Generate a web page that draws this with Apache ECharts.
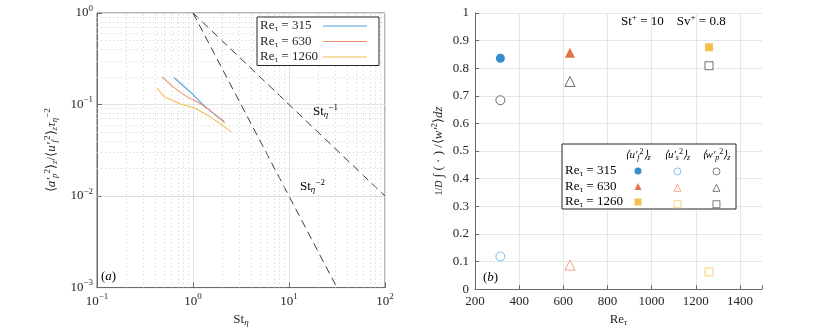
<!DOCTYPE html>
<html>
<head>
<meta charset="utf-8">
<script src="https://cdn.jsdelivr.net/npm/echarts@6/dist/echarts.min.js"></script>
<style>
html, body { margin: 0; padding: 0; background: #fff; }
#chart { width: 830px; height: 332px; }
</style>
</head>
<body>
<div id="chart"></div>
<script>
// (a) particle acceleration variance vs St_eta
const stBlue = [0.638, 0.93, 1.28, 1.69, 2.10];
const accBlue = [0.196, 0.138, 0.099, 0.077, 0.0657];
const stRed = [0.479, 0.62, 0.86, 1.18, 1.63, 2.15];
const accRed = [0.200, 0.156, 0.122, 0.103, 0.081, 0.063];
const stYellow = [0.425, 0.50, 0.73, 1.05, 1.50, 1.99, 2.53];
const accYellow = [0.150, 0.122, 0.102, 0.091, 0.074, 0.060, 0.050];
// reference slopes St^-1 and St^-2
const slope1X = [1, 100];
const slope1Y = [1, 0.01];
const slope2X = [1, 31.6];
const slope2Y = [1, 0.001];
// minor grid positions for the log-log panel
const minorX = [0.2, 0.3, 0.4, 0.5, 0.6, 0.7, 0.8, 0.9, 2, 3, 4, 5, 6, 7, 8, 9, 20, 30, 40, 50, 60, 70, 80, 90];
const minorY = [0.002, 0.003, 0.004, 0.005, 0.006, 0.007, 0.008, 0.009,
	0.02, 0.03, 0.04, 0.05, 0.06, 0.07, 0.08, 0.09, 0.2, 0.3, 0.4, 0.5, 0.6, 0.7, 0.8, 0.9];
const reLabels = ['315', '630', '1260'];

// (b) integrated variances vs Re_tau
const reTau = [315, 630, 1260];
const ufVals = [0.836, 0.856, 0.876];
const usVals = [0.118, 0.087, 0.062];
const wpVals = [0.684, 0.752, 0.809];

const serif = 'Liberation Serif';
const ink = '#262626';
const lineColors = ['#4FA3E0', '#EE8F6B', '#F3C050'];
const fillColors = ['#0072BD', '#D95319', '#EDB120'];
const openColors = ['#4DAAE6', '#EE8A66', '#F2C45A'];
const markerShapes = ['circle', 'triangle', 'rect'];
const markerSizes = [9, 10, 8];

// thin horizontal stroke as legend icon (the tiny strips keep the box height)
const lineIcon = 'path://M0,0L44,0L44,0.01L0,0.01Z M0,6.45L44,6.45L44,7.55L0,7.55Z M0,13.99L44,13.99L44,14L0,14Z';

const rich = {
	n: { fontFamily: serif, fontSize: 13, color: ink, verticalAlign: 'middle' },
	i: { fontFamily: serif, fontSize: 13, color: ink, fontStyle: 'italic', verticalAlign: 'middle' },
	sup: { fontFamily: serif, fontSize: 9, color: ink, verticalAlign: 'middle', padding: [0, 0, 9, 0] },
	sub: { fontFamily: serif, fontSize: 9, color: ink, verticalAlign: 'middle', padding: [6, 0, 0, 0] },
	subi: { fontFamily: serif, fontSize: 9, color: ink, fontStyle: 'italic', verticalAlign: 'middle', padding: [6, 0, 0, 0] },
	fs: { fontFamily: serif, fontSize: 10, color: ink, verticalAlign: 'middle' },
	fsi: { fontFamily: serif, fontSize: 10, color: ink, fontStyle: 'italic', verticalAlign: 'middle' },
	h: { fontFamily: serif, fontSize: 11, color: ink, fontStyle: 'italic', verticalAlign: 'middle' },
	hs: { fontFamily: serif, fontSize: 8, color: ink, fontStyle: 'italic', verticalAlign: 'middle', padding: [5, 0, 0, 0] },
	hp: { fontFamily: serif, fontSize: 8, color: ink, verticalAlign: 'middle', padding: [0, 0, 7, 0] },
};

const legendRich = {
	l: { fontFamily: serif, fontSize: 13, color: ink, align: 'left', verticalAlign: 'middle' },
	ls: { fontFamily: serif, fontSize: 9, color: ink, align: 'left', verticalAlign: 'middle', padding: [6, 0, 0, 0] },
};

const pow10Label = (value) => {
	const e = Math.round(Math.log10(value));
	return '{n|10}{sup|' + (e < 0 ? '−' + -e : e) + '}';
};

const pairs = (xs, ys) => xs.map((x, k) => [x, ys[k]]);

const chart = echarts.init(document.getElementById('chart'));

const series = [];

// minor dotted grid of the log-log panel
series.push({
	type: 'line',
	xAxisIndex: 0,
	yAxisIndex: 0,
	data: [],
	z: 1,
	markLine: {
		silent: true,
		symbol: ['none', 'none'],
		label: { show: false },
		lineStyle: { type: [1, 3], color: '#cfcfcf', width: 1 },
		emphasis: { disabled: true },
		data: minorX.map((v) => ({ xAxis: v })).concat(minorY.map((v) => ({ yAxis: v }))),
	},
});

// DNS curves
[[stBlue, accBlue], [stRed, accRed], [stYellow, accYellow]].forEach((d, k) => {
	series.push({
		name: 'Re' + reLabels[k],
		type: 'line',
		xAxisIndex: 0,
		yAxisIndex: 0,
		data: pairs(d[0], d[1]),
		symbol: 'none',
		lineStyle: { color: lineColors[k], width: 1.1 },
		itemStyle: { color: lineColors[k] },
		z: 3,
	});
});

// slope lines
[[slope1X, slope1Y], [slope2X, slope2Y]].forEach((d) => {
	series.push({
		type: 'line',
		xAxisIndex: 0,
		yAxisIndex: 0,
		data: pairs(d[0], d[1]),
		symbol: 'none',
		lineStyle: { color: '#3a3a3a', width: 1, type: [8, 5] },
		z: 2,
	});
});

// panel (b) markers
reTau.forEach((re, k) => {
	series.push({
		name: 'uf' + k,
		type: 'scatter',
		xAxisIndex: 1,
		yAxisIndex: 1,
		data: [[re, ufVals[k]]],
		symbol: markerShapes[k],
		symbolSize: markerSizes[k],
		itemStyle: { color: fillColors[k], borderWidth: 0 },
	});
	series.push({
		name: 'us' + k,
		type: 'scatter',
		xAxisIndex: 1,
		yAxisIndex: 1,
		data: [[re, usVals[k]]],
		symbol: markerShapes[k],
		symbolSize: markerSizes[k],
		itemStyle: { color: '#fff', borderColor: openColors[k], borderWidth: 1 },
	});
	series.push({
		name: 'wp' + k,
		type: 'scatter',
		xAxisIndex: 1,
		yAxisIndex: 1,
		data: [[re, wpVals[k]]],
		symbol: markerShapes[k],
		symbolSize: markerSizes[k],
		itemStyle: { color: '#fff', borderColor: '#4a4a4a', borderWidth: 1 },
	});
});

// marker legend columns of panel (b)
const markerLegend = (prefix, left) => ({
	data: [0, 1, 2].map((k) => prefix + k),
	orient: 'vertical',
	left: left,
	top: 167.5,
	padding: 0,
	itemWidth: 7,
	itemHeight: 7,
	itemGap: 8.5,
	selectedMode: false,
	itemStyle: { borderWidth: 0.9 },
	formatter: () => '',
	textStyle: { fontSize: 1, lineHeight: 1 },
	z: 10,
});

const rowText = (k, y) => ({
	type: 'text',
	x: 565,
	y: y,
	z: 10,
	style: { text: '{n|Re}{sub|τ}{n| = ' + reLabels[k] + '}', rich: rich, verticalAlign: 'middle' },
});

const option = {
	animation: false,
	backgroundColor: '#fff',
	grid: [
		{ left: 97, top: 13, width: 288, height: 280, show: true, borderColor: '#6a6a6a', borderWidth: 1, backgroundColor: 'transparent' },
		{ left: 475, top: 13, width: 287, height: 280 },
	],
	xAxis: [
		{
			gridIndex: 0,
			type: 'log',
			logBase: 10,
			min: 0.1,
			max: 100,
			name: '{n|St}{subi|η}',
			nameLocation: 'middle',
			nameGap: 22,
			nameTextStyle: { rich: rich },
			axisLine: { lineStyle: { color: '#6a6a6a', width: 1 } },
			axisTick: { inside: true, length: 5, lineStyle: { color: '#6a6a6a' } },
			axisLabel: { formatter: pow10Label, rich: rich, margin: 5 },
			splitLine: { show: true, lineStyle: { color: '#e2e2e2', width: 1 } },
		},
		{
			gridIndex: 1,
			type: 'value',
			min: 200,
			max: 1500,
			interval: 200,
			name: '{n|Re}{subi|τ}',
			nameLocation: 'middle',
			nameGap: 22,
			nameTextStyle: { rich: rich },
			axisLine: { lineStyle: { color: '#6a6a6a', width: 1 } },
			axisTick: { inside: true, length: 4, lineStyle: { color: '#6a6a6a' } },
			axisLabel: {
				formatter: (v) => (v > 1450 ? '' : '{n|' + v + '}'),
				rich: rich,
				margin: 6,
			},
			splitLine: { show: true, showMaxLine: false, lineStyle: { color: '#e6e6e6', width: 1 } },
		},
	],
	yAxis: [
		{
			gridIndex: 0,
			type: 'log',
			logBase: 10,
			min: 0.001,
			max: 1,
			name: '{n|⟨}{i|a′}{subi|p}{sup|2}{n|⟩}{subi|z}{n|/⟨}{i|u′}{subi|f}{sup|2}{n|⟩}{subi|z}{i|τ}{subi|η}{sup|−2}',
			nameLocation: 'middle',
			nameRotate: 90,
			nameGap: 36,
			nameTextStyle: { rich: rich },
			axisLine: { lineStyle: { color: '#6a6a6a', width: 1 } },
			axisTick: { inside: true, length: 5, lineStyle: { color: '#6a6a6a' } },
			axisLabel: { formatter: pow10Label, rich: rich, margin: 4 },
			splitLine: { show: true, lineStyle: { color: '#e2e2e2', width: 1 } },
		},
		{
			gridIndex: 1,
			type: 'value',
			min: 0,
			max: 1,
			interval: 0.1,
			name: '{fs|1/}{fsi|D}{n| ∫ ( · ) /⟨}{i|w′}{sup|2}{n|⟩}{i|dz}',
			nameLocation: 'middle',
			nameRotate: 90,
			nameGap: 27,
			nameTextStyle: { rich: rich },
			axisLine: { show: true, lineStyle: { color: '#6a6a6a', width: 1 } },
			axisTick: { show: true, inside: true, length: 4, lineStyle: { color: '#6a6a6a' } },
			axisLabel: {
				formatter: (v) => '{n|' + String(Math.round(v * 10) / 10) + '}',
				rich: rich,
				margin: 6,
			},
			splitLine: { show: true, lineStyle: { color: '#e6e6e6', width: 1 } },
		},
	],
	legend: [
		{
			data: reLabels.map((r) => 'Re' + r),
			icon: lineIcon,
			orient: 'vertical',
			align: 'right',
			left: 257,
			top: 17,
			padding: [2, 12, 1, 3],
			itemWidth: 44,
			itemHeight: 14,
			itemGap: 1,
			selectedMode: false,
			backgroundColor: '#fff',
			borderColor: '#262626',
			borderWidth: 1,
			borderRadius: 0,
			itemStyle: { borderWidth: 0 },
			formatter: (name) => '{l|Re}{ls|τ}{l| = ' + name.slice(2) + '}',
			textStyle: { width: 58, lineHeight: 14, rich: legendRich },
			z: 10,
		},
		markerLegend('uf', 634.5),
		markerLegend('us', 673.5),
		markerLegend('wp', 712.5),
	],
	graphic: [
		{
			type: 'text',
			x: 101,
			y: 277,
			z: 10,
			style: { text: '{n|(}{i|a}{n|)}', rich: rich, verticalAlign: 'middle' },
		},
		{
			type: 'text',
			x: 483,
			y: 278,
			z: 10,
			style: { text: '{n|(}{i|b}{n|)}', rich: rich, verticalAlign: 'middle' },
		},
		{
			type: 'text',
			x: 313,
			y: 112,
			z: 10,
			style: { text: '{n|St}{subi|η}{sup|−1}', rich: rich, verticalAlign: 'middle' },
		},
		{
			type: 'text',
			x: 300,
			y: 187,
			z: 10,
			style: { text: '{n|St}{subi|η}{sup|−2}', rich: rich, verticalAlign: 'middle' },
		},
		{
			type: 'text',
			x: 621,
			y: 22,
			z: 10,
			style: { text: '{n|St}{sup|+}{n| = 10    Sv}{sup|+}{n| = 0.8}', rich: rich, verticalAlign: 'middle' },
		},
		{
			type: 'rect',
			z: 5,
			shape: { x: 562, y: 144, width: 174, height: 65 },
			style: { fill: '#fff', stroke: '#262626', lineWidth: 1 },
		},
		{
			type: 'text',
			x: 638,
			y: 155,
			z: 10,
			style: { text: '{h|⟨u′}{hs|f}{hp|2}{h|⟩}{hs|z}', rich: rich, align: 'center', verticalAlign: 'middle' },
		},
		{
			type: 'text',
			x: 677,
			y: 155,
			z: 10,
			style: { text: '{h|⟨u′}{hs|s}{hp|2}{h|⟩}{hs|z}', rich: rich, align: 'center', verticalAlign: 'middle' },
		},
		{
			type: 'text',
			x: 716,
			y: 155,
			z: 10,
			style: { text: '{h|⟨w′}{hs|p}{hp|2}{h|⟩}{hs|z}', rich: rich, align: 'center', verticalAlign: 'middle' },
		},
		rowText(0, 171),
		rowText(1, 186.5),
		rowText(2, 202),
	],
	series: series,
};

chart.setOption(option);
</script>
</body>
</html>
